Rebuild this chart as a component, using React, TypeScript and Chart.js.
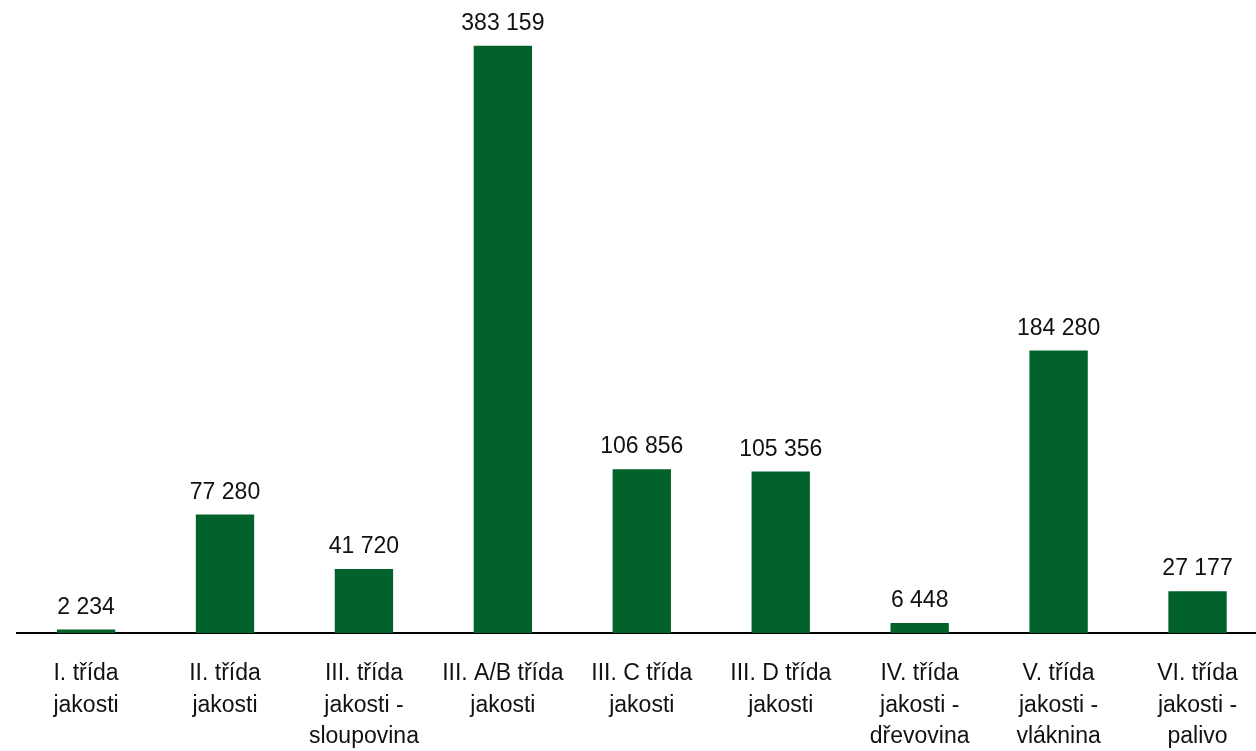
import React, { useEffect, useRef } from "react";
import { Chart, registerables } from "chart.js";

Chart.register(...registerables);

const categories: string[][] = [
  ["I. třída", "jakosti"],
  ["II. třída", "jakosti"],
  ["III. třída", "jakosti -", "sloupovina"],
  ["III. A/B třída", "jakosti"],
  ["III. C třída", "jakosti"],
  ["III. D třída", "jakosti"],
  ["IV. třída", "jakosti -", "dřevovina"],
  ["V. třída", "jakosti -", "vláknina"],
  ["VI. třída", "jakosti -", "palivo"],
];
const values: number[] = [2234, 77280, 41720, 383159, 106856, 105356, 6448, 184280, 27177];

const BAR_COLOR = "#03622b";
const FONT = "'Liberation Sans', Arial, sans-serif";

function fmt(v: number): string {
  return String(v).replace(/\B(?=(\d{3})+(?!\d))/g, " ");
}

const valueLabels = {
  id: "valueLabels",
  afterDatasetsDraw(chart: any) {
    const ctx = chart.ctx;
    const meta = chart.getDatasetMeta(0);
    ctx.save();
    ctx.font = `23px ${FONT}`;
    ctx.fillStyle = "#111";
    ctx.textAlign = "center";
    ctx.textBaseline = "alphabetic";
    meta.data.forEach((el: any, i: number) => {
      ctx.fillText(fmt(values[i]), el.x, el.y - 16);
    });
    ctx.restore();
  },
};

export default function App() {
  const ref = useRef<HTMLCanvasElement>(null);
  useEffect(() => {
    if (!ref.current) return;
    const chart = new Chart(ref.current, {
      type: "bar",
      data: {
        labels: categories,
        datasets: [
          {
            data: values,
            backgroundColor: BAR_COLOR,
            barPercentage: 0.42,
            categoryPercentage: 1,
          },
        ],
      },
      options: {
        animation: false,
        responsive: false,
        layout: { padding: { left: 16.6, right: 0, top: 20, bottom: 0 } },
        plugins: { legend: { display: false }, tooltip: { enabled: false } },
        scales: {
          x: {
            grid: { display: false, drawTicks: false },
            border: { display: true, color: "#000", width: 2 },
            ticks: {
              color: "#111",
              font: { family: FONT, size: 23, lineHeight: 1.37 },
              padding: 25,
              maxRotation: 0,
              autoSkip: false,
            },
            afterFit: (s: any) => {
              s.height = 118;
            },
          },
          y: {
            display: false,
            min: 0,
            max: 400000,
          },
        },
      },
      plugins: [valueLabels],
    });
    return () => chart.destroy();
  }, []);
  return (
    <div
      style={{
        position: "fixed",
        left: 0,
        top: 0,
        width: 1256,
        height: 751,
        overflow: "hidden",
        background: "#fff",
      }}
    >
      <canvas ref={ref} width={1267} height={751} style={{ display: "block" }} />
    </div>
  );
}
